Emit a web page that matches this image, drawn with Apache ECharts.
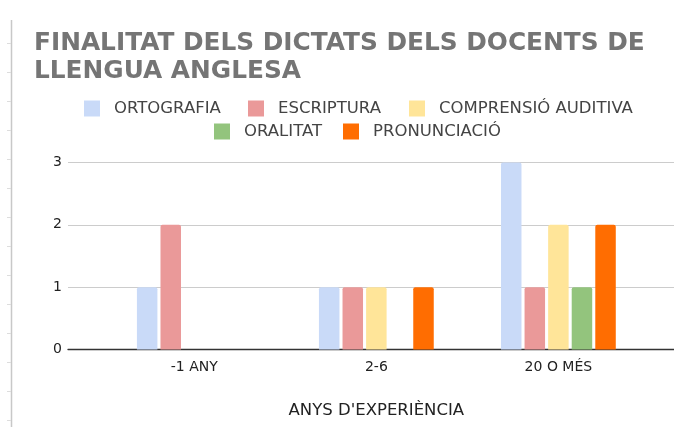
<!DOCTYPE html>
<html>
<head>
<meta charset="utf-8">
<script src="https://cdn.jsdelivr.net/npm/echarts@6/dist/echarts.min.js"></script>
<style>
  html, body { margin: 0; padding: 0; background: #fff; }
  #main { width: 674px; height: 427px; }
</style>
</head>
<body>
<div id="main"></div>
<script>
// dades del gràfic
var categories = ['-1 ANY', '2-6', '20 O MÉS'];
var seriesNames = ['ORTOGRAFIA', 'ESCRIPTURA', 'COMPRENSIÓ AUDITIVA', 'ORALITAT', 'PRONUNCIACIÓ'];
var ortografia = [1, 1, 3];
var escriptura = [2, 1, 1];
var comprensio = [0, 1, 2];
var oralitat = [0, 0, 1];
var pronunciacio = [0, 1, 2];
var yTicks = [0, 1, 2, 3];

var colors = ['#c9daf8', '#ea9999', '#ffe599', '#93c47d', '#ff6d01'];
var values = [ortografia, escriptura, comprensio, oralitat, pronunciacio];

// posició de cada element de la llegenda
var legendPos = [[84, 100], [248, 100], [409, 100], [214, 123], [343, 123]];

function buildChart() {
    var myChart = echarts.init(document.getElementById('main'));

    var series = [];
    var legends = [];
    for (var i = 0; i < seriesNames.length; i++) {
        series.push({
            name: seriesNames[i],
            type: 'bar',
            xAxisIndex: 1,
            yAxisIndex: 1,
            barWidth: 20.5,
            barGap: '15%',
            itemStyle: { color: colors[i], borderRadius: [2, 2, 0, 0] },
            data: values[i]
        });
        legends.push({
            left: legendPos[i][0],
            top: legendPos[i][1],
            padding: 0,
            itemWidth: 16,
            itemHeight: 16,
            icon: 'rect',
            textStyle: { fontFamily: 'DejaVu Sans', fontSize: 16.5, color: '#444', padding: [0, 0, 0, 9] },
            data: [seriesNames[i]]
        });
    }

    // vora esquerra del full
    var border = [{
        type: 'line',
        shape: { x1: 11.5, y1: 20, x2: 11.5, y2: 427 },
        style: { stroke: '#c8c8c8', lineWidth: 1.5 }
    }];
    for (var t = 43; t < 427; t += 29) {
        border.push({
            type: 'line',
            shape: { x1: 7, y1: t + 0.5, x2: 11, y2: t + 0.5 },
            style: { stroke: '#dddddd', lineWidth: 1 }
        });
    }

    var option = {
        backgroundColor: '#fff',
        animation: false,
        color: colors,
        title: {
            text: 'FINALITAT DELS DICTATS DELS DOCENTS DE\nLLENGUA ANGLESA',
            left: 34,
            top: 30,
            padding: 0,
            textStyle: {
                fontFamily: 'DejaVu Sans',
                fontWeight: 'bold',
                fontSize: 24.8,
                lineHeight: 28,
                color: '#757575'
            }
        },
        legend: legends,
        grid: [
            { left: 68, right: 0, top: 162.5, bottom: 77.5 },
            { left: 103.3, right: 24.6, top: 162.5, bottom: 77.5 }
        ],
        xAxis: [{
            type: 'category',
            gridIndex: 0,
            data: categories,
            axisTick: { show: false },
            axisLabel: { show: false },
            axisLine: { lineStyle: { color: '#333', width: 1.3 } }
        }, {
            type: 'category',
            gridIndex: 1,
            data: categories,
            axisTick: { show: false },
            axisLine: { show: false },
            axisLabel: { fontFamily: 'DejaVu Sans', fontSize: 14, color: '#222', margin: 11 },
            name: "ANYS D'EXPERIÈNCIA",
            nameLocation: 'middle',
            nameGap: 53,
            nameTextStyle: { fontFamily: 'DejaVu Sans', fontSize: 16.5, color: '#222' }
        }],
        yAxis: [{
            type: 'value',
            gridIndex: 0,
            min: yTicks[0],
            max: yTicks[yTicks.length - 1],
            interval: 1,
            axisLine: { show: false },
            axisTick: { show: false },
            axisLabel: { fontFamily: 'DejaVu Sans', fontSize: 14, color: '#222', margin: 6 },
            splitLine: { lineStyle: { color: '#cccccc', width: 1 } }
        }, {
            type: 'value',
            gridIndex: 1,
            min: yTicks[0],
            max: yTicks[yTicks.length - 1],
            interval: 1,
            show: false,
            splitLine: { show: false }
        }],
        graphic: border,
        series: series
    };

    myChart.setOption(option);
}

buildChart();
</script>
</body>
</html>
